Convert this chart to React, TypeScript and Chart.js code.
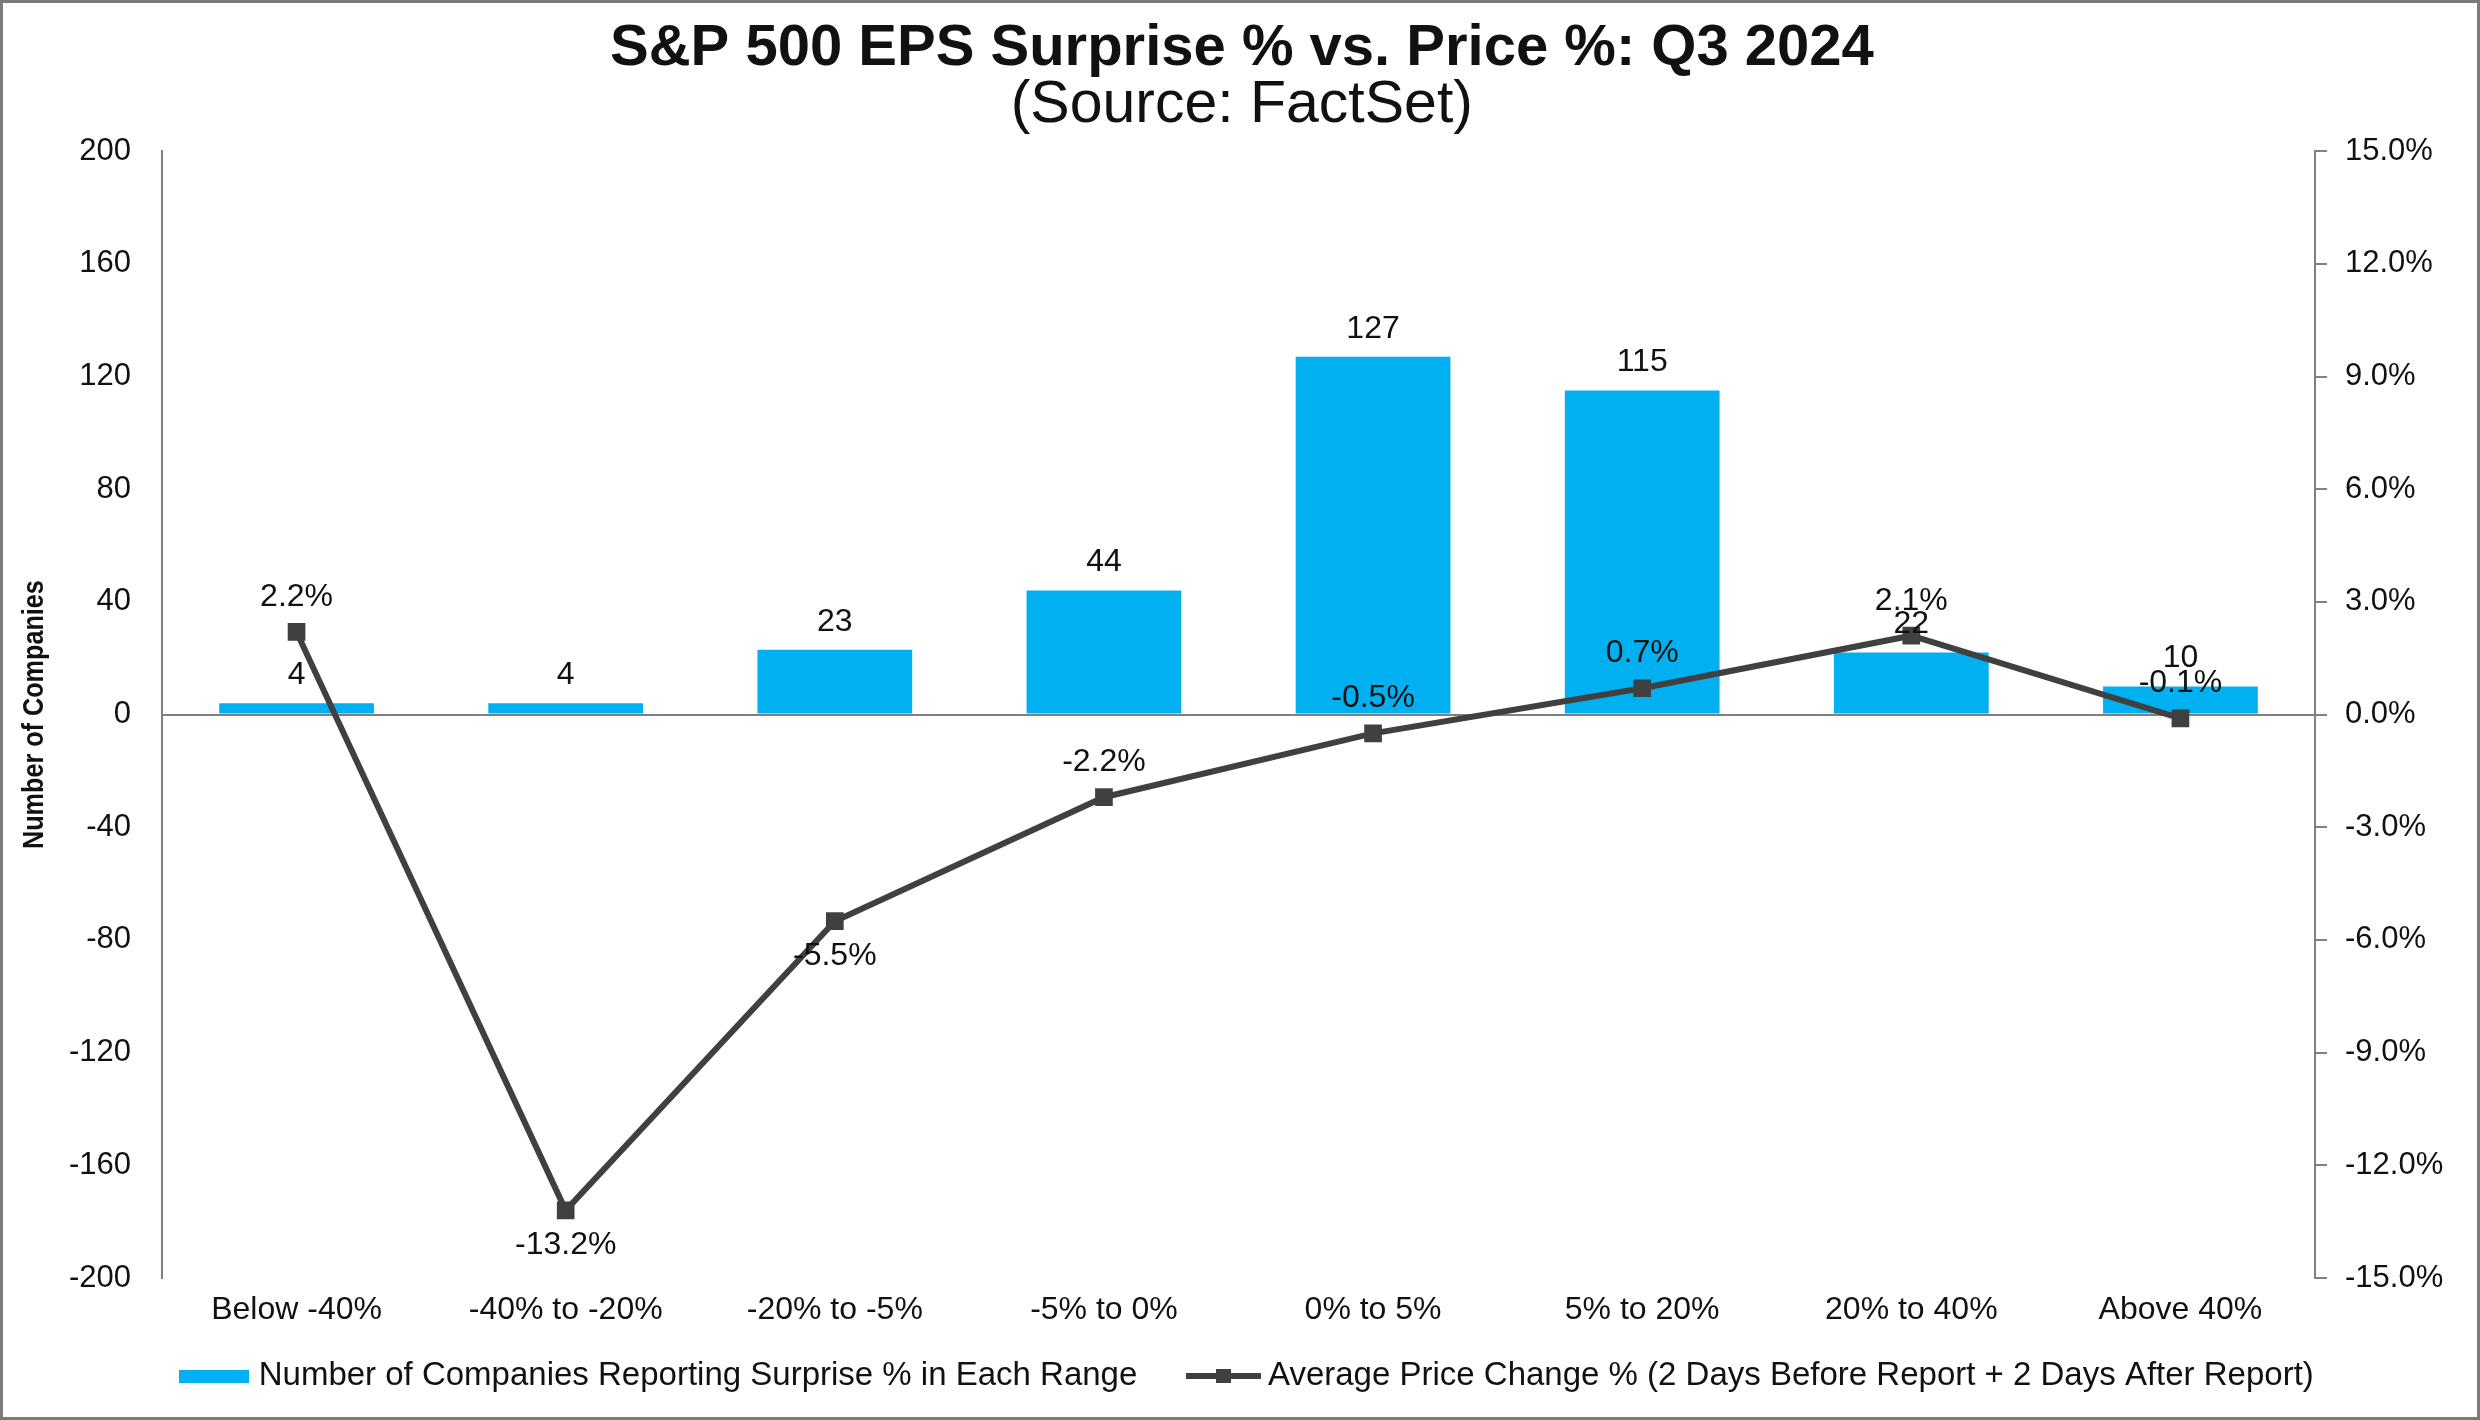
import React, { useEffect, useRef } from 'react';
import { Chart, registerables } from 'chart.js';

Chart.register(...registerables);

const categories = [
  'Below -40%',
  '-40% to -20%',
  '-20% to -5%',
  '-5% to 0%',
  '0% to 5%',
  '5% to 20%',
  '20% to 40%',
  'Above 40%',
];
const companyCounts = [4, 4, 23, 44, 127, 115, 22, 10];
const avgPriceChange = [2.2, -13.2, -5.5, -2.2, -0.5, 0.7, 2.1, -0.1];
const priceLabelBelow = [false, true, true, false, false, false, false, false];

const countAxisMin = -200;
const countAxisMax = 200;
const countAxisStep = 40;
const pctAxisMin = -15;
const pctAxisMax = 15;
const pctAxisStep = 3;

const titleText = 'S&P 500 EPS Surprise % vs. Price %: Q3 2024';
const subtitleText = '(Source: FactSet)';
const leftAxisTitle = 'Number of Companies';
const barSeriesName = 'Number of Companies Reporting Surprise % in Each Range';
const lineSeriesName = 'Average Price Change % (2 Days Before Report + 2 Days After Report)';

const FONT = "'Liberation Sans', Arial, Helvetica, sans-serif";
const BAR_COLOR = '#00B0F0';
const LINE_COLOR = '#404040';
const AXIS_COLOR = '#808080';
const TEXT_COLOR = '#111111';

function makeSwatch(): HTMLCanvasElement {
  const c = document.createElement('canvas');
  c.width = 70;
  c.height = 13;
  const g = c.getContext('2d')!;
  g.fillStyle = BAR_COLOR;
  g.fillRect(0, 0, 70, 13);
  return c;
}

function makeLineSwatch(): HTMLCanvasElement {
  const c = document.createElement('canvas');
  c.width = 75;
  c.height = 16;
  const g = c.getContext('2d')!;
  g.fillStyle = LINE_COLOR;
  g.fillRect(0, 5, 75, 6);
  g.fillRect(30, 1, 15, 14);
  return c;
}

const framePlugin = {
  id: 'frame',
  beforeDraw(chart: any) {
    const { ctx, width, height } = chart;
    ctx.save();
    ctx.fillStyle = '#ffffff';
    ctx.fillRect(0, 0, width, height);
    ctx.restore();
  },
  afterDraw(chart: any) {
    const { ctx, width, height, chartArea } = chart;
    ctx.save();
    // left axis title, condensed like the original
    ctx.translate(35, (chartArea.top + chartArea.bottom) / 2);
    ctx.rotate(-Math.PI / 2);
    ctx.scale(0.84, 1);
    ctx.font = `bold 30px ${FONT}`;
    ctx.fillStyle = TEXT_COLOR;
    ctx.textAlign = 'center';
    ctx.textBaseline = 'middle';
    ctx.fillText(leftAxisTitle, 0, 0);
    ctx.restore();
    ctx.save();
    ctx.strokeStyle = '#7a7a7a';
    ctx.lineWidth = 3;
    ctx.strokeRect(1.5, 1.5, width - 3, height - 3);
    ctx.restore();
  },
};

const dataLabelPlugin = {
  id: 'dataLabels',
  afterDatasetsDraw(chart: any) {
    const { ctx } = chart;
    ctx.save();
    ctx.font = `32px ${FONT}`;
    ctx.fillStyle = TEXT_COLOR;
    ctx.textAlign = 'center';
    ctx.textBaseline = 'middle';
    chart.data.datasets.forEach((ds: any, di: number) => {
      const meta = chart.getDatasetMeta(di);
      meta.data.forEach((el: any, i: number) => {
        const v = ds.data[i];
        if (ds.type === 'bar') {
          ctx.fillText(String(v), el.x, el.y - 28);
        } else {
          const below = priceLabelBelow[i];
          ctx.fillText(v.toFixed(1) + '%', el.x, below ? el.y + 35 : el.y - 35);
        }
      });
    });
    ctx.restore();
  },
};

export default function App() {
  const ref = useRef<HTMLCanvasElement | null>(null);

  useEffect(() => {
    document.body.style.margin = '0';
    const canvas = ref.current;
    if (!canvas) return;
    const swatch = makeSwatch();
    const lineSwatch = makeLineSwatch();

    const chart = new Chart(canvas, {
      type: 'bar',
      data: {
        labels: categories,
        datasets: [
          {
            type: 'line',
            label: lineSeriesName,
            data: avgPriceChange,
            yAxisID: 'y1',
            borderColor: LINE_COLOR,
            backgroundColor: LINE_COLOR,
            borderWidth: 6,
            pointStyle: 'rect',
            pointRadius: 12.5,
            pointBackgroundColor: LINE_COLOR,
            pointBorderColor: LINE_COLOR,
            pointBorderWidth: 0,
            tension: 0,
            order: 0,
          } as any,
          {
            type: 'bar',
            label: barSeriesName,
            data: companyCounts,
            yAxisID: 'y',
            backgroundColor: BAR_COLOR,
            borderWidth: 0,
            categoryPercentage: 1,
            barPercentage: 0.575,
            order: 1,
          } as any,
        ],
      },
      options: {
        responsive: false,
        maintainAspectRatio: false,
        animation: false,
        devicePixelRatio: 1,
        events: [],
        layout: { padding: { left: 20, right: 0, top: 0, bottom: 17.5 } },
        plugins: {
          tooltip: { enabled: false },
          title: {
            display: true,
            text: titleText + ' ',
            color: TEXT_COLOR,
            font: { family: FONT, size: 58, weight: 'bold', lineHeight: 0.95 },
            padding: { top: 21, bottom: 0 },
          },
          subtitle: {
            display: true,
            text: subtitleText + ' ',
            color: TEXT_COLOR,
            font: { family: FONT, size: 59, weight: 'normal', lineHeight: 0.95 },
            padding: { top: 2, bottom: 17 },
          },
          legend: {
            display: true,
            position: 'bottom',
            labels: {
              color: TEXT_COLOR,
              font: { family: FONT, size: 33 },
              usePointStyle: true,
              pointStyleWidth: 56,
              padding: 21.5,
              generateLabels: () => [
                {
                  text: barSeriesName + '    ',
                  pointStyle: swatch,
                  fillStyle: BAR_COLOR,
                  strokeStyle: BAR_COLOR,
                  lineWidth: 0,
                  hidden: false,
                  datasetIndex: 1,
                  fontColor: TEXT_COLOR,
                },
                {
                  text: lineSeriesName,
                  pointStyle: lineSwatch,
                  fillStyle: LINE_COLOR,
                  strokeStyle: LINE_COLOR,
                  lineWidth: 0,
                  hidden: false,
                  datasetIndex: 0,
                  fontColor: TEXT_COLOR,
                },
              ],
            },
          },
        },
        scales: {
          x: {
            type: 'category',
            offset: true,
            grid: { display: false, drawTicks: false },
            border: { display: false },
            ticks: {
              color: TEXT_COLOR,
              font: { family: FONT, size: 32, lineHeight: 1.2 },
              padding: 13,
              maxRotation: 0,
              autoSkip: false,
            },
            afterFit: (scale: any) => {
              scale.height = 60;
            },
          },
          y: {
            type: 'linear',
            position: 'left',
            min: countAxisMin,
            max: countAxisMax,
            ticks: {
              stepSize: countAxisStep,
              color: TEXT_COLOR,
              font: { family: FONT, size: 31 },
              padding: 31,
            },
            grid: {
              display: true,
              drawTicks: false,
              drawOnChartArea: true,
              color: (c: any) => (c.tick && c.tick.value === 0 ? AXIS_COLOR : 'rgba(0,0,0,0)'),
              lineWidth: 2,
            },
            border: { display: true, color: AXIS_COLOR, width: 2 },
            title: { display: false },
            afterFit: (scale: any) => {
              scale.width = 142;
            },
          },
          y1: {
            type: 'linear',
            position: 'right',
            min: pctAxisMin,
            max: pctAxisMax,
            ticks: {
              stepSize: pctAxisStep,
              color: TEXT_COLOR,
              font: { family: FONT, size: 31 },
              padding: 18,
              callback: (v: any) => Number(v).toFixed(1) + '%',
            },
            grid: {
              display: true,
              drawOnChartArea: false,
              drawTicks: true,
              tickLength: 12,
              color: AXIS_COLOR,
              lineWidth: 2,
            },
            border: { display: true, color: AXIS_COLOR, width: 2 },
            afterFit: (scale: any) => {
              scale.width = 165;
            },
          },
        },
      },
      plugins: [framePlugin, dataLabelPlugin],
    } as any);

    return () => {
      chart.destroy();
    };
  }, []);

  return (
    <div style={{ width: 2480, height: 1420 }}>
      <canvas ref={ref} width={2480} height={1420} style={{ width: 2480, height: 1420, display: 'block' }} />
    </div>
  );
}
